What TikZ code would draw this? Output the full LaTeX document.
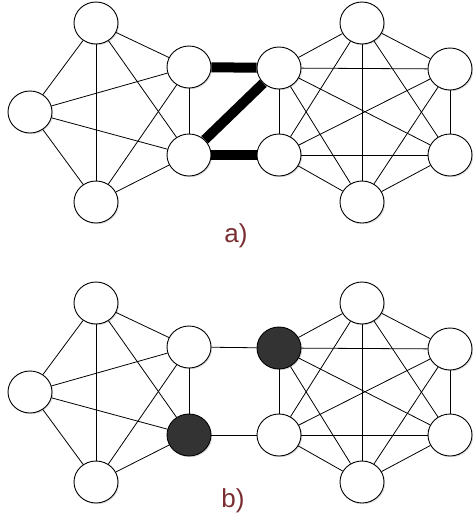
\documentclass[tikz,border=0pt]{standalone}
\usepackage{fontspec}
\setmainfont{Liberation Sans}
\usetikzlibrary{shapes.geometric,shadows}
\definecolor{Wine}{HTML}{7A2E31}
\definecolor{Coal}{HTML}{333333}

\begin{document}
\begin{tikzpicture}[x=1pt,y=-1pt,
    vertex/.style={ellipse,draw=black,line width=0.9pt,fill=white,minimum width=44pt,minimum height=42pt,inner sep=0pt,
      drop shadow={shadow xshift=1.2pt,shadow yshift=-1.2pt,opacity=0.25}},
    dark/.style={vertex,fill=Coal},
    edge/.style={line width=0.8pt,black},
    bridge/.style={line width=10pt,black},
    lbl/.style={text=Wine,font=\fontsize{26}{30}\selectfont,anchor=base,inner sep=0pt}]
  \useasboundingbox (0,0) rectangle (473,517);
  \foreach \g/\dy/\hl in {a/0/vertex,b/280/dark}{
    \begin{scope}[shift={(0,\dy)}]
      % left group
      \node[vertex] (pa\g) at (96,23) {};
      \node[vertex] (pb\g) at (30,112) {};
      \node[vertex] (pc\g) at (96,202) {};
      \node[vertex] (pd\g) at (189,67) {};
      \node[\hl] (pe\g) at (189,155) {};
      % right group
      \node[vertex] (qa\g) at (362,23) {};
      \node[\hl] (qb\g) at (279,68) {};
      \node[vertex] (qc\g) at (450,69) {};
      \node[vertex] (qd\g) at (279,155) {};
      \node[vertex] (qe\g) at (450,155) {};
      \node[vertex] (qf\g) at (362,202) {};
    \end{scope}
    \foreach \u/\v in {pa/pb,pa/pc,pa/pd,pa/pe,pb/pc,pb/pd,pb/pe,pc/pd,pc/pe,pd/pe}
      \draw[edge] (\u\g)--(\v\g);
    \foreach \u/\v in {qa/qb,qa/qc,qa/qd,qa/qe,qa/qf,qb/qc,qb/qd,qb/qe,qb/qf,qc/qd,qc/qe,qc/qf,qd/qe,qd/qf,qe/qf}
      \draw[edge] (\u\g)--(\v\g);
  }
  % links between the groups
  \draw[bridge] (pda)--(qba);
  \draw[bridge] (pea)--(qba);
  \draw[bridge] (pea)--(qda);
  \draw[edge] (pdb)--(qbb);
  \draw[edge] (peb)--(qdb);
  % captions
  \node[lbl] (capa) at (236,242) {a)};
  \node[lbl] (capb) at (233,507) {b)};
\end{tikzpicture}
\end{document}
